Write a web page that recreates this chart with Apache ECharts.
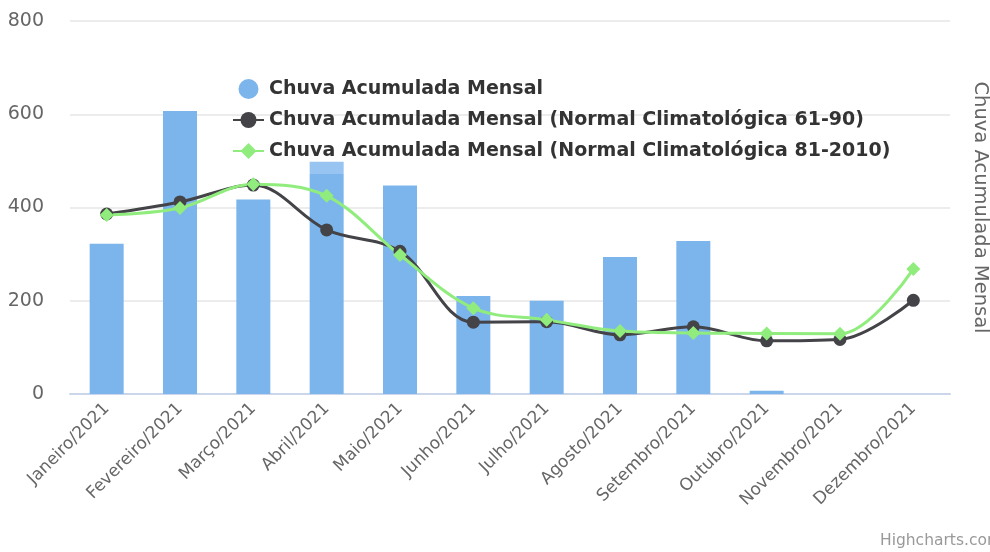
<!DOCTYPE html>
<html>
<head>
<meta charset="utf-8">
<script src="https://cdn.jsdelivr.net/npm/echarts@6/dist/echarts.min.js"></script>
<style>html,body{margin:0;padding:0;background:#fff}#c{width:990px;height:552px}</style>
</head>
<body>
<div id="c"></div>
<script>
const categories = ['Janeiro/2021','Fevereiro/2021','Março/2021','Abril/2021','Maio/2021','Junho/2021','Julho/2021','Agosto/2021','Setembro/2021','Outubro/2021','Novembro/2021','Dezembro/2021'];
const chuvaMensal = [322, 607, 417, 472, 447, 210, 200, 294, 328, 7, 0, 0];
const chuvaMensalTopo = [0, 0, 0, 26, 0, 0, 0, 0, 0, 0, 0, 0];
const normal6190 = [386, 412, 448, 352, 306, 154, 155, 127, 144, 114, 117, 201];
const normal8110 = [384, 399, 450, 425, 298, 184, 159, 135, 131, 130, 129, 268];
const yTicks = [0, 200, 400, 600, 800];

const FONT = 'DejaVu Sans';
const chart = echarts.init(document.getElementById('c'));
chart.setOption({
  animation: false,
  textStyle: {fontFamily: FONT},
  grid: {left: 70, right: 40, top: 21, bottom: 158, containLabel: false, outerBoundsMode: 'none'},
  legend: {
    orient: 'vertical', left: 227, top: 73, itemGap: 9,
    itemWidth: 31, itemHeight: 20,
    data: [
      {name: 'Chuva Acumulada Mensal', icon: 'circle'},
      'Chuva Acumulada Mensal (Normal Climatológica 61-90)',
      'Chuva Acumulada Mensal (Normal Climatológica 81-2010)'
    ],
    textStyle: {fontSize: 19, fontWeight: 'bold', color: '#333', fontFamily: FONT, lineHeight: 22}
  },
  xAxis: {
    type: 'category', data: categories,
    axisLine: {lineStyle: {color: '#ccd6eb', width: 2}},
    axisTick: {show: false},
    axisLabel: {rotate: 45, color: '#666', fontSize: 17, margin: 12, fontFamily: FONT, interval: 0}
  },
  yAxis: [{
    type: 'value', min: yTicks[0], max: yTicks[yTicks.length - 1], interval: 200,
    axisLabel: {color: '#666', fontSize: 19, margin: 26, fontFamily: FONT},
    splitLine: {lineStyle: {color: '#e6e6e6', width: 1.5}},
    axisLine: {show: false}, axisTick: {show: false}
  }, {
    type: 'value', position: 'right', min: 0, max: 800, interval: 200,
    name: 'Chuva Acumulada Mensal', nameLocation: 'middle', nameRotate: -90, nameGap: 20,
    nameTextStyle: {color: '#666', fontSize: 19.5, fontFamily: FONT},
    axisLabel: {show: false}, splitLine: {show: false},
    axisLine: {show: false}, axisTick: {show: false}
  }],
  series: [{
    name: 'Chuva Acumulada Mensal', type: 'bar', data: chuvaMensal, stack: 'chuva',
    barWidth: 34, itemStyle: {color: '#7cb5ec'}
  }, {
    name: 'topo', type: 'bar', data: chuvaMensalTopo, stack: 'chuva',
    barWidth: 34, itemStyle: {color: '#97c4f0'}
  }, {
    name: 'Chuva Acumulada Mensal (Normal Climatológica 61-90)', type: 'line', data: normal6190,
    smooth: 0.35, symbol: 'circle', symbolSize: 13, showAllSymbol: true,
    lineStyle: {color: '#434348', width: 3}, itemStyle: {color: '#434348'}
  }, {
    name: 'Chuva Acumulada Mensal (Normal Climatológica 81-2010)', type: 'line', data: normal8110,
    smooth: 0.35, symbol: 'diamond', symbolSize: 14, showAllSymbol: true,
    lineStyle: {color: '#90ed7d', width: 3}, itemStyle: {color: '#90ed7d'}
  }],
  graphic: [{
    type: 'text', left: 880, top: 533,
    style: {text: 'Highcharts.com', fill: '#999', fontSize: 15.5, fontFamily: FONT}
  }]
});
</script>
</body>
</html>
